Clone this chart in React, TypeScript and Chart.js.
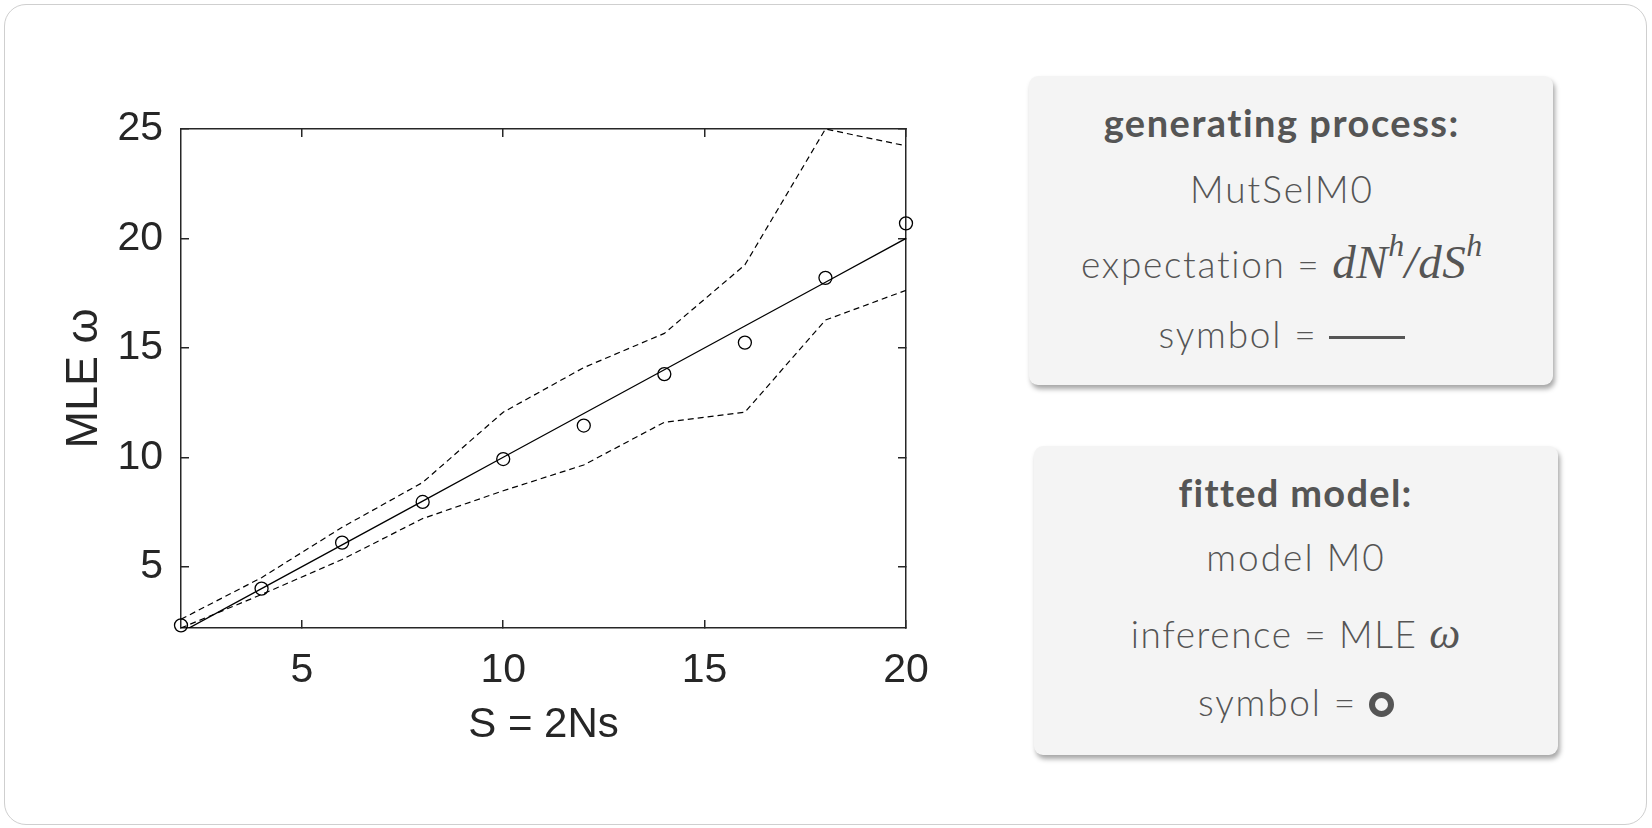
import React, { useEffect, useRef } from 'react';
import { Chart, registerables } from 'chart.js';

Chart.register(...registerables);

// ---- data ----
const sValues = [2, 4, 6, 8, 10, 12, 14, 16, 18, 20];
const expectedOmega = [2, 4, 6, 8, 10, 12, 14, 16, 18, 20];
const mleOmega = [2.32, 4.0, 6.1, 7.96, 9.92, 11.45, 13.8, 15.24, 18.2, 20.69];
const upperBound = [2.6, 4.5, 6.8, 8.85, 12.06, 14.1, 15.66, 18.79, 25.0, 24.23];
const lowerBound = [2.2, 3.73, 5.33, 7.2, 8.47, 9.65, 11.6, 12.06, 16.27, 17.63];
const xTickValues = [5, 10, 15, 20];
const yTickValues = [5, 10, 15, 20, 25];
const xLimits = [2, 20];
const yLimits = [2.2, 25];

const AX = '#262626';
const SANS = '"Liberation Sans", Arial, Helvetica, sans-serif';
const BOX_FONT = 'Lato, "Noto Sans", sans-serif';
const TEXT_GRAY = '#555555';

const toPoints = (ys: number[]) => sValues.map((s, i) => ({ x: s, y: ys[i] }));

function ChartPanel() {
  const ref = useRef<HTMLCanvasElement | null>(null);
  useEffect(() => {
    if (!ref.current) return;
    const gridOpts = {
      drawOnChartArea: false,
      drawTicks: true,
      tickLength: -8,
      color: AX,
      lineWidth: 1.5,
    };
    const borderOpts = { display: true, color: AX, width: 1.5 };
    const setX = (s: any) => {
      s.ticks = xTickValues.map((v) => ({ value: v }));
    };
    const setY = (s: any) => {
      s.ticks = yTickValues.map((v) => ({ value: v }));
    };
    const chart = new Chart(ref.current, {
      type: 'scatter',
      data: {
        datasets: [
          {
            label: 'expectation',
            data: toPoints(expectedOmega),
            showLine: true,
            borderColor: '#000',
            borderWidth: 1.3,
            pointRadius: 0,
            fill: false,
          },
          {
            label: 'upper',
            data: toPoints(upperBound),
            showLine: true,
            borderColor: '#000',
            borderWidth: 1.2,
            borderDash: [6, 4],
            pointRadius: 0,
            fill: false,
          },
          {
            label: 'lower',
            data: toPoints(lowerBound),
            showLine: true,
            borderColor: '#000',
            borderWidth: 1.2,
            borderDash: [6, 4],
            pointRadius: 0,
            fill: false,
          },
          {
            label: 'MLE',
            data: toPoints(mleOmega),
            showLine: false,
            pointStyle: 'circle',
            pointRadius: 6.5,
            pointBorderWidth: 1.3,
            pointBorderColor: '#000',
            pointBackgroundColor: 'rgba(0,0,0,0)',
            clip: false as any,
          },
        ],
      },
      options: {
        animation: false,
        responsive: false,
        devicePixelRatio: 1,
        layout: { padding: { left: 0, top: 129, right: 54, bottom: 0 } },
        plugins: { legend: { display: false }, tooltip: { enabled: false } },
        scales: {
          x: {
            type: 'linear',
            position: 'bottom',
            min: xLimits[0],
            max: xLimits[1],
            afterBuildTicks: setX,
            afterFit: (s: any) => {
              s.height = 152;
            },
            grid: gridOpts,
            border: borderOpts,
            ticks: {
              color: AX,
              padding: 30.5,
              autoSkip: false,
              maxRotation: 0,
              font: { family: SANS, size: 41, lineHeight: 1 },
            },
            title: {
              display: true,
              text: 'S = 2Ns',
              color: AX,
              font: { family: SANS, size: 42, lineHeight: 1 },
              padding: { top: 0, bottom: 34 },
            },
          },
          y: {
            type: 'linear',
            position: 'left',
            min: yLimits[0],
            max: yLimits[1],
            afterBuildTicks: setY,
            afterFit: (s: any) => {
              s.width = 181;
            },
            grid: gridOpts,
            border: borderOpts,
            ticks: {
              color: AX,
              padding: 26,
              autoSkip: false,
              font: { family: SANS, size: 41, lineHeight: 1 },
            },
            title: {
              display: true,
              text: 'MLE ω',
              color: AX,
              font: { family: SANS, size: 45, lineHeight: 1 },
              padding: { top: 62.5, bottom: 0 },
            },
          },
          x2: {
            type: 'linear',
            axis: 'x',
            position: 'top',
            min: xLimits[0],
            max: xLimits[1],
            afterBuildTicks: setX,
            afterFit: (s: any) => {
              s.height = 0;
            },
            grid: gridOpts,
            border: borderOpts,
            ticks: { display: false },
          },
          y2: {
            type: 'linear',
            axis: 'y',
            position: 'right',
            min: yLimits[0],
            max: yLimits[1],
            afterBuildTicks: setY,
            afterFit: (s: any) => {
              s.width = 0;
            },
            grid: gridOpts,
            border: borderOpts,
            ticks: { display: false },
          },
        } as any,
      },
    });
    return () => chart.destroy();
  }, []);
  return (
    <canvas
      ref={ref}
      width={960}
      height={780}
      style={{ position: 'absolute', left: 0, top: 0, width: 960, height: 780 }}
    />
  );
}

function Line({ y, cx, size, bold, spacing, children }: any) {
  const h = 60;
  return (
    <div
      style={{
        position: 'absolute',
        left: cx - 300,
        width: 600,
        top: y - h / 2,
        height: h,
        lineHeight: h + 'px',
        textAlign: 'center',
        fontFamily: BOX_FONT,
        fontSize: size,
        fontWeight: bold ? 700 : 300,
        letterSpacing: spacing,
        paddingLeft: spacing,
        boxSizing: 'border-box',
        color: bold ? '#555555' : TEXT_GRAY,
        whiteSpace: 'nowrap',
      }}
    >
      {children}
    </div>
  );
}

const supStyle: React.CSSProperties = {
  fontSize: '0.68em',
  position: 'relative',
  top: '-0.7em',
  verticalAlign: 'baseline',
};

const mathStyle: React.CSSProperties = {
  fontFamily: '"Liberation Serif", "Times New Roman", serif',
  fontStyle: 'italic',
  fontSize: 47,
  letterSpacing: 0.5,
};

const boxStyle = (left: number, top: number, w: number, h: number): React.CSSProperties => ({
  position: 'absolute',
  left,
  top,
  width: w,
  height: h,
  background: '#f4f4f4',
  borderRadius: 9,
  boxShadow: '2px 4px 5px rgba(0,0,0,0.35)',
});

export default function App() {
  return (
    <div
      style={{
        position: 'fixed',
        left: 0,
        top: 0,
        width: 1652,
        height: 828,
        background: '#ffffff',
        overflow: 'hidden',
      }}
    >
      <div
        style={{
          position: 'absolute',
          left: 4,
          top: 4,
          width: 1643,
          height: 821,
          border: '1.5px solid #cfcfcf',
          borderRadius: 22,
          boxSizing: 'border-box',
        }}
      />
      <ChartPanel />
      <div style={boxStyle(1029, 76, 524, 309)} />
      <div style={boxStyle(1034, 446, 524, 309)} />
      <Line y={122} cx={1281} size={38} bold spacing={1.5}>
        generating process:
      </Line>
      <Line y={189} cx={1281} size={37} spacing={2}>
        MutSelM0
      </Line>
      <Line y={262} cx={1281} size={37} spacing={1.7}>
        expectation ={' '}
        <span style={mathStyle}>
          dN<span style={supStyle}>h</span>/dS<span style={supStyle}>h</span>
        </span>
      </Line>
      <Line y={334} cx={1281} size={37} spacing={1.8}>
        symbol ={' '}
        <span
          style={{
            display: 'inline-block',
            width: 76,
            height: 3,
            background: TEXT_GRAY,
            verticalAlign: 'middle',
            marginTop: -2,
          }}
        />
      </Line>
      <Line y={492} cx={1295} size={38} bold spacing={1.3}>
        fitted model:
      </Line>
      <Line y={557} cx={1295} size={37} spacing={2}>
        model M0
      </Line>
      <Line y={634} cx={1295} size={37} spacing={1.6}>
        inference = MLE <span style={{ ...mathStyle, fontSize: 44 }}>ω</span>
      </Line>
      <Line y={702} cx={1295} size={37} spacing={1.8}>
        symbol ={' '}
        <span
          style={{
            display: 'inline-block',
            width: 25,
            height: 25,
            borderRadius: '50%',
            border: '6px solid ' + TEXT_GRAY,
            boxSizing: 'border-box',
            verticalAlign: 'middle',
            marginTop: -4,
          }}
        />
      </Line>
    </div>
  );
}
